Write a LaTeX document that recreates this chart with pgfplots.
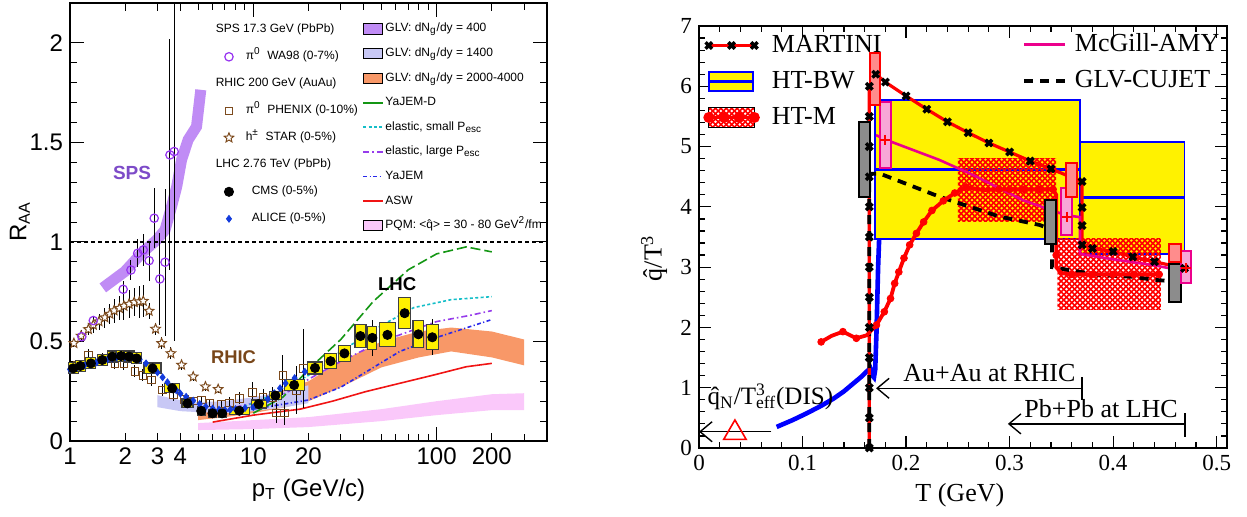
\documentclass[border=0pt]{standalone}
\usepackage{fontspec}
\setmainfont{Liberation Sans}
\newfontfamily\tnr{Liberation Serif}
\usepackage{pgfplots}
\usepackage{pgfplotstable}
\pgfplotsset{compat=1.18}
\usetikzlibrary{patterns,arrows.meta}

\definecolor{spsband}{RGB}{192,140,245}
\definecolor{glvb}{RGB}{200,200,245}
\definecolor{glvc}{RGB}{248,152,104}
\definecolor{pqm}{RGB}{250,200,250}
\definecolor{yjd}{RGB}{20,150,20}
\definecolor{elsm}{RGB}{20,190,200}
\definecolor{ella}{RGB}{150,60,235}
\definecolor{yj}{RGB}{40,40,235}
\definecolor{asw}{RGB}{240,20,20}
\definecolor{wa}{RGB}{150,50,240}
\definecolor{brn}{RGB}{125,75,30}
\definecolor{alice}{RGB}{20,60,220}
\definecolor{cmsy}{RGB}{255,240,0}
\definecolor{spstxt}{RGB}{125,75,200}
\definecolor{rhictxt}{RGB}{120,70,25}

\pgfdeclareplotmark{ybox}{\pgfpathrectangle{\pgfpoint{-\bw pt}{-\bh pt}}{\pgfpoint{2*\bw pt}{2*\bh pt}}\pgfusepathqfillstroke}

\pgfdeclareplotmark{ostar}{%
  \pgfpathmoveto{\pgfqpointpolar{90}{\pgfplotmarksize}}%
  \pgfpathlineto{\pgfqpointpolar{126}{0.45\pgfplotmarksize}}%
  \pgfpathlineto{\pgfqpointpolar{162}{\pgfplotmarksize}}%
  \pgfpathlineto{\pgfqpointpolar{198}{0.45\pgfplotmarksize}}%
  \pgfpathlineto{\pgfqpointpolar{234}{\pgfplotmarksize}}%
  \pgfpathlineto{\pgfqpointpolar{270}{0.45\pgfplotmarksize}}%
  \pgfpathlineto{\pgfqpointpolar{306}{\pgfplotmarksize}}%
  \pgfpathlineto{\pgfqpointpolar{342}{0.45\pgfplotmarksize}}%
  \pgfpathlineto{\pgfqpointpolar{18}{\pgfplotmarksize}}%
  \pgfpathlineto{\pgfqpointpolar{54}{0.45\pgfplotmarksize}}%
  \pgfpathclose\pgfusepathqfillstroke}

\pgfdeclarepatternformonly{xh}{\pgfqpoint{-1pt}{-1pt}}{\pgfqpoint{3.7pt}{3.7pt}}{\pgfqpoint{2.7pt}{2.7pt}}{%
  \pgfsetlinewidth{0.8pt}%
  \pgfpathmoveto{\pgfqpoint{-0.1pt}{-0.1pt}}\pgfpathlineto{\pgfqpoint{2.8pt}{2.8pt}}%
  \pgfpathmoveto{\pgfqpoint{-0.1pt}{2.8pt}}\pgfpathlineto{\pgfqpoint{2.8pt}{-0.1pt}}%
  \pgfusepath{stroke}}

\pgfplotsset{
  mklegend/.style={legend image code/.code={\path[draw=none,fill=none] (0cm,-0.05cm) rectangle (0.49cm,0.05cm); \draw[##1] plot coordinates {(0.23cm,0cm)};}},
  hdrlegend/.style={legend image code/.code={\path[draw=none,fill=none] (0cm,-0.05cm) rectangle (0.49cm,0.05cm);}},
  arealegend/.style={legend image code/.code={\fill[##1] (0cm,-0.09cm) rectangle (0.34cm,0.09cm);}},
  linelegend/.style={legend image code/.code={\draw[##1] (0cm,0cm) -- (0.34cm,0cm);}},
  martinileg/.style={legend image code/.code={\draw[red, line width=1.6pt] (0cm,0cm) -- (0.8cm,0cm); \draw[only marks, mark=x, mark size=2.3pt, mark options={black, line width=1.7pt}] plot coordinates {(0cm,0cm)(0.4cm,0cm)(0.8cm,0cm)};}},
  htbwleg/.style={legend image code/.code={\filldraw[fill=yellow, draw=blue, line width=0.9pt] (0cm,-0.17cm) rectangle (0.78cm,0.17cm); \draw[blue, line width=1.6pt] (0cm,0cm) -- (0.78cm,0cm);}},
  htmleg/.style={legend image code/.code={\fill[pattern=xh, pattern color=red] (0cm,-0.18cm) rectangle (0.8cm,0.18cm); \draw[red, line width=1.8pt, mark=*, mark size=1.8pt] plot coordinates {(0cm,0cm)(0.27cm,0cm)(0.53cm,0cm)(0.8cm,0cm)};}},
  mcgleg/.style={legend image code/.code={\draw[magenta, line width=1.6pt] (0cm,0cm) -- (0.72cm,0cm);}},
  cujleg/.style={legend image code/.code={\draw[black, line width=1.9pt, dash pattern=on 4.5pt off 3.5pt] (0cm,0cm) -- (0.72cm,0cm);}},
}

\pgfplotstableread{
x y ey bw bh
1.04 0.365 0.010 2.5 2.75
1.14 0.377 0.010 2.5 2.75
1.30 0.390 0.010 2.5 2.75
1.50 0.407 0.010 2.5 2.75
1.70 0.424 0.010 2.5 2.75
1.90 0.427 0.010 2.5 2.75
2.10 0.424 0.010 2.5 2.75
2.31 0.415 0.010 2.5 2.75
2.82 0.365 0.015 4.25 2.7
3.61 0.265 0.015 3.75 2.3
4.37 0.189 0.010 2.75 2.2
5.20 0.151 0.008 2.0 2.0
5.99 0.139 0.008 2.0 2.0
6.76 0.139 0.008 2.0 2.0
8.38 0.152 0.008 5.0 1.8
10.7 0.186 0.015 3.75 2.0
13.2 0.228 0.020 3.0 2.0
16.7 0.281 0.030 5.0 2.7
21.7 0.367 0.020 3.6 3.0
26.4 0.401 0.030 2.9 3.8
31.4 0.440 0.040 3.0 4.0
38.4 0.527 0.045 2.75 5.6
44.6 0.518 0.090 2.25 5.7
53.9 0.533 0.020 3.9 6.0
66.9 0.642 0.060 3.0 7.75
79.5 0.536 0.065 2.7 6.7
94.7 0.521 0.090 2.9 6.25
}\cmsdata

\pgfplotstableread{
x y ey
1.16 0.524 0.02
1.34 0.605 0.02
1.95 0.762 0.04
2.15 0.859 0.05
2.34 0.943 0.07
2.51 0.960 0.08
2.70 0.906 0.10
2.88 1.119 0.15
3.09 0.814 0.23
3.30 0.898 0.37
3.51 1.437 0.58
3.70 1.454 0.95
}\wadata

\pgfplotstableread{
x y ey
1.05 0.491 0.02
1.15 0.528 0.03
1.26 0.561 0.03
1.34 0.583 0.04
1.44 0.600 0.04
1.55 0.620 0.05
1.65 0.638 0.05
1.74 0.655 0.06
1.86 0.667 0.06
1.97 0.678 0.07
2.10 0.688 0.07
2.24 0.697 0.07
2.39 0.700 0.08
2.51 0.703 0.08
2.70 0.653 0.04
2.93 0.563 0.03
3.16 0.491 0.03
3.55 0.440 0.03
4.06 0.382 0.025
4.70 0.323 0.02
5.48 0.273 0.02
6.43 0.260 0.02
}\stardata

\pgfplotstableread{
x y ey
1.10 0.380 0.02
1.26 0.430 0.03
1.50 0.410 0.03
1.76 0.390 0.03
1.97 0.387 0.03
2.26 0.350 0.03
2.50 0.330 0.03
2.79 0.306 0.03
3.20 0.256 0.03
3.66 0.231 0.03
4.20 0.210 0.02
4.70 0.200 0.02
5.20 0.205 0.02
5.80 0.190 0.02
6.70 0.186 0.02
7.40 0.190 0.03
8.40 0.215 0.03
9.90 0.245 0.05
11.3 0.220 0.04
12.8 0.220 0.05
13.4 0.140 0.05
14.5 0.330 0.10
14.8 0.140 0.06
17.2 0.255 0.12
18.8 0.365 0.20
}\phenixdata

\pgfplotstableread{
x y
1.00 0.360
1.10 0.370
1.20 0.380
1.30 0.390
1.40 0.395
1.50 0.400
1.60 0.410
1.70 0.415
1.80 0.420
1.90 0.420
2.00 0.420
2.20 0.420
2.40 0.410
2.60 0.390
2.80 0.365
3.00 0.345
3.20 0.320
3.40 0.295
3.60 0.272
3.80 0.255
4.00 0.238
4.30 0.222
4.70 0.203
5.10 0.186
5.50 0.172
6.00 0.163
6.50 0.157
7.00 0.155
7.50 0.158
8.00 0.160
9.00 0.165
10.0 0.170
11.0 0.190
12.0 0.210
13.0 0.240
14.0 0.265
15.0 0.290
16.8 0.316
19.1 0.348
}\alicedata

\begin{document}
\begin{tikzpicture}
\useasboundingbox (0,0) rectangle (623.5pt,258pt);

%================ LEFT PANEL =================
\begin{axis}[
  at={(35pt,37.5pt)}, anchor=south west, scale only axis,
  width=238.5pt, height=219pt,
  xmode=log, xmin=1, xmax=400, ymin=0, ymax=2.2,
  xtick={1,10,100}, xticklabels={1,10,100},
  extra x ticks={2,3,4,20,200}, extra x tick labels={2,3,4,20,200},
  extra x tick style={major tick length=4pt},
  minor xtick={5,6,7,8,9,30,40,50,60,70,80,90,300,400},
  ytick={0,0.5,1,1.5,2}, minor y tick num=4,
  major tick length=7pt, minor tick length=3.5pt,
  axis line style={line width=0.7pt},
  every tick/.style={black, line width=0.5pt},
  ticklabel style={font=\fontsize{12}{12}\selectfont},
  /pgf/number format/assume math mode=true,
  xlabel={p\textsubscript{T} (GeV/c)}, ylabel={R\textsubscript{AA}},
  label style={font=\fontsize{12}{14}\selectfont},
  xlabel style={at={(rel axis cs:0.5,-0.112)}, anchor=center},
  ylabel style={at={(rel axis cs:-0.105,0.5)}, anchor=center},
  legend cell align=left,
  legend style={at={(rel axis cs:0.305,0.958)}, anchor=north west, draw=none, fill=none,
    font=\fontsize{6}{7}\selectfont, row sep=5.5pt, inner sep=0pt,
    nodes={inner sep=1pt, text height=4.5pt, text depth=1.5pt}},
]
% bands
\addplot[fill=pqm, draw=none, forget plot] coordinates {(5,0.09)(10,0.105)(20,0.12)(50,0.16)(100,0.20)(200,0.235)(300,0.24)(300,0.155)(200,0.155)(100,0.13)(50,0.10)(20,0.07)(10,0.06)(5,0.055)} -- cycle;
\addplot[fill=glvc, draw=none, forget plot] coordinates {(5,0.155)(7,0.18)(10,0.21)(15,0.26)(20,0.30)(30,0.40)(50,0.50)(80,0.55)(120,0.57)(200,0.55)(300,0.51)(300,0.38)(200,0.42)(120,0.45)(80,0.42)(50,0.37)(30,0.27)(20,0.20)(15,0.17)(10,0.14)(7,0.12)(5,0.105)} -- cycle;
\addplot[fill=glvb, draw=none, forget plot] coordinates {(3,0.23)(4,0.205)(5,0.195)(7,0.2)(10,0.22)(15,0.25)(20,0.28)(20,0.19)(15,0.17)(10,0.15)(7,0.14)(5,0.145)(4,0.15)(3,0.17)} -- cycle;
\addplot[draw=spsband, line width=5.5pt, forget plot] coordinates {(1.51,0.769)(1.99,0.851)(2.46,0.943)(2.97,1.01)(3.30,1.06)(3.58,1.177)(3.82,1.277)(4.06,1.412)(4.41,1.513)(4.90,1.579)(5.17,1.764)};
% model curves
\addplot[asw, line width=0.8pt, forget plot] coordinates {(6,0.095)(10,0.13)(18,0.16)(27,0.2)(41,0.248)(63,0.29)(95,0.33)(145,0.373)(200,0.39)};
\addplot[yj, line width=0.8pt, dash pattern=on 2pt off 1.2pt on 0.6pt off 1.2pt, forget plot] coordinates {(7,0.15)(10,0.16)(20,0.206)(30,0.27)(63,0.45)(100,0.52)(200,0.61)};
\addplot[ella, line width=0.8pt, dash pattern=on 3pt off 1.5pt on 0.8pt off 1.5pt, forget plot] coordinates {(8,0.17)(10,0.19)(15,0.24)(20,0.31)(30,0.40)(50,0.50)(100,0.60)(150,0.63)(200,0.655)};
\addplot[elsm, line width=0.8pt, dash pattern=on 1.5pt off 1.2pt, forget plot] coordinates {(6,0.14)(8,0.16)(10,0.19)(14,0.25)(20,0.33)(30,0.45)(50,0.58)(75,0.67)(120,0.71)(200,0.725)};
\addplot[yjd, line width=0.8pt, dash pattern=on 5pt off 2pt, forget plot] coordinates {(10,0.14)(14.5,0.22)(20,0.36)(30,0.51)(45,0.70)(70,0.86)(100,0.94)(145,0.975)(200,0.95)};
\addplot[black, line width=0.6pt, dash pattern=on 2pt off 1.5pt, forget plot] coordinates {(1,1)(400,1)};
% data
\addplot[only marks, mark=ostar, mark size=2.5pt, brn, mark options={line width=0.5pt, fill=white}, forget plot,
  error bars/.cd, y dir=both, y explicit, error mark=none, error bar style={black, line width=0.5pt}]
  table[x=x,y=y,y error=ey] {\stardata};
\addplot[only marks, mark=o, mark size=2.1pt, wa, mark options={line width=0.6pt, fill=white}, forget plot,
  error bars/.cd, y dir=both, y explicit, error mark=none, error bar style={black, line width=0.5pt}]
  table[x=x,y=y,y error=ey] {\wadata};
\addplot[only marks, mark=square, mark size=1.9pt, brn, mark options={line width=0.5pt}, forget plot,
  error bars/.cd, y dir=both, y explicit, error mark=none, error bar style={black, line width=0.5pt}]
  table[x=x,y=y,y error=ey] {\phenixdata};
\addplot[only marks, mark=ybox, mark options={fill=cmsy, draw=black!75, line width=0.6pt}, forget plot,
  visualization depends on={\thisrow{bw}\as\bw},
  visualization depends on={\thisrow{bh}\as\bh}]
  table[x=x,y=y] {\cmsdata};
\addplot[only marks, mark=diamond*, mark size=1.7pt, alice, forget plot] table[x=x,y=y] {\alicedata};
\addplot[only marks, mark=*, mark size=2.3pt, black, forget plot,
  error bars/.cd, y dir=both, y explicit, error mark=none, error bar style={black, line width=0.7pt}]
  table[x=x,y=y,y error=ey] {\cmsdata};
% labels
\node[font=\bfseries\fontsize{9.5}{11}\selectfont, text=spstxt] at (axis cs:2.18,1.345) {SPS};
\node[font=\bfseries\fontsize{9.2}{11}\selectfont, text=rhictxt] at (axis cs:7.8,0.42) {RHIC};
\node[font=\bfseries\fontsize{9.3}{11}\selectfont, text=black] at (axis cs:60.9,0.787) {LHC};
% legend column 1
\addlegendimage{hdrlegend}
\addlegendentry{\hspace*{-15pt}SPS 17.3 GeV (PbPb)}
\addlegendimage{mklegend, only marks, mark=o, mark size=2.1pt, wa, line width=0.6pt}
\addlegendentry{π\textsuperscript{0}\ \ WA98 (0-7\%)}
\addlegendimage{hdrlegend}
\addlegendentry{\hspace*{-15pt}RHIC 200 GeV (AuAu)}
\addlegendimage{mklegend, only marks, mark=square, mark size=1.9pt, brn, line width=0.5pt}
\addlegendentry{π\textsuperscript{0}\ \ PHENIX (0-10\%)}
\addlegendimage{mklegend, only marks, mark=ostar, mark size=2.5pt, brn, line width=0.5pt, fill=white}
\addlegendentry{h\textsuperscript{±}\ \ STAR (0-5\%)}
\addlegendimage{hdrlegend}
\addlegendentry{\hspace*{-15pt}LHC 2.76 TeV (PbPb)}
\addlegendimage{mklegend, only marks, mark=*, mark size=2.3pt, black}
\addlegendentry{\hspace*{3pt}CMS (0-5\%)}
\addlegendimage{mklegend, only marks, mark=diamond*, mark size=1.7pt, alice}
\addlegendentry{\hspace*{3pt}ALICE (0-5\%)}
\end{axis}

% legend column 2 (overlay)
\begin{axis}[
  at={(35pt,37.5pt)}, anchor=south west, scale only axis,
  width=238.5pt, height=219pt, hide axis, xmin=0, xmax=1, ymin=0, ymax=1,
  legend cell align=left,
  legend style={at={(rel axis cs:0.612,0.96)}, anchor=north west, draw=none, fill=none,
    font=\fontsize{6}{7}\selectfont, row sep=4.3pt, inner sep=0pt,
    nodes={inner sep=1pt, text height=4.5pt, text depth=1.5pt}},
]
\addlegendimage{arealegend, fill=spsband}
\addlegendentry{GLV: dN\textsubscript{g}/dy = 400}
\addlegendimage{arealegend, fill=glvb}
\addlegendentry{GLV: dN\textsubscript{g}/dy = 1400}
\addlegendimage{arealegend, fill=glvc}
\addlegendentry{GLV: dN\textsubscript{g}/dy = 2000-4000}
\addlegendimage{linelegend, yjd, line width=0.8pt}
\addlegendentry{YaJEM-D}
\addlegendimage{linelegend, elsm, line width=0.9pt, dash pattern=on 1.5pt off 1.2pt}
\addlegendentry{elastic, small P\textsubscript{esc}}
\addlegendimage{linelegend, ella, line width=0.8pt, dash pattern=on 3pt off 1.5pt on 0.8pt off 1.5pt}
\addlegendentry{elastic, large P\textsubscript{esc}}
\addlegendimage{linelegend, yj, line width=0.8pt, dash pattern=on 2pt off 1.2pt on 0.6pt off 1.2pt}
\addlegendentry{YaJEM}
\addlegendimage{linelegend, asw, line width=0.8pt}
\addlegendentry{ASW}
\addlegendimage{arealegend, fill=pqm}
\addlegendentry{PQM: <\^{q}> = 30 - 80 GeV\textsuperscript{2}/fm}
\end{axis}

%================ RIGHT PANEL =================
\begin{axis}[
  at={(349.5pt,34pt)}, anchor=south west, scale only axis,
  width=264pt, height=211pt,
  xmin=0, xmax=0.51, ymin=0, ymax=7,
  xtick={0,0.1,0.2,0.3,0.4,0.5}, ytick={0,1,2,3,4,5,6,7},
  minor x tick num=4, minor y tick num=4,
  major tick length=6pt, minor tick length=3pt,
  axis line style={line width=0.8pt},
  every tick/.style={black, line width=0.6pt},
  ticklabel style={font=\tnr\fontsize{11.5}{12}\selectfont},
  /pgf/number format/assume math mode=true,
  xlabel={T (GeV)}, ylabel={\^{q}/T\textsuperscript{3}},
  label style={font=\tnr\fontsize{13}{15}\selectfont},
  xlabel style={at={(rel axis cs:0.494,-0.111)}, anchor=center},
  ylabel style={at={(rel axis cs:-0.085,0.45)}, anchor=center},
  legend cell align=left,
  legend style={at={(rel axis cs:0.011,0.988)}, anchor=north west, draw=none, fill=none,
    font=\tnr\fontsize{13}{15}\selectfont, row sep=4pt, inner sep=0pt,
    nodes={inner sep=1pt, text height=9.5pt, text depth=2.5pt}},
]
% HT-BW yellow boxes
\addplot[fill=yellow, draw=blue, line width=0.9pt, forget plot] coordinates {(0.17,3.47)(0.368,3.47)(0.368,5.77)(0.17,5.77)} -- cycle;
\addplot[fill=yellow, draw=blue, line width=0.9pt, forget plot] coordinates {(0.368,3.22)(0.469,3.22)(0.469,5.08)(0.368,5.08)} -- cycle;
\addplot[blue, line width=1.6pt, forget plot] coordinates {(0.17,4.62)(0.368,4.62)};
\addplot[blue, line width=1.6pt, forget plot] coordinates {(0.368,4.16)(0.469,4.16)};
% HT-M hatched bands
\addplot[draw=none, pattern=xh, pattern color=red, forget plot] coordinates {(0.250,3.75)(0.345,3.75)(0.345,4.80)(0.250,4.80)} -- cycle;
\addplot[draw=none, pattern=xh, pattern color=red, forget plot] coordinates {(0.3465,2.29)(0.4462,2.29)(0.4462,3.48)(0.3465,3.48)} -- cycle;
% blue curve
\addplot[blue, line width=2.3pt, forget plot] coordinates {(0.075,0.35)(0.09,0.46)(0.104,0.575)(0.118,0.70)(0.13,0.82)(0.14,0.94)(0.149,1.07)(0.156,1.17)(0.162,1.27)(0.1655,1.32)(0.1675,1.20)(0.169,1.17)(0.1702,1.30)(0.1714,1.90)(0.173,3.0)(0.174,3.47)};
% MARTINI
\addplot[red, line width=1.6pt, forget plot] coordinates {(0.1645,0)(0.1645,6.0)(0.1707,6.2)(0.180,6.07)(0.200,5.84)(0.220,5.62)(0.240,5.41)(0.260,5.23)(0.280,5.06)(0.300,4.91)(0.320,4.76)(0.340,4.63)(0.370,4.42)(0.370,3.37)(0.380,3.31)(0.400,3.26)(0.419,3.17)(0.440,3.09)(0.469,2.98)};
% GLV-CUJET
\addplot[black, line width=1.9pt, dash pattern=on 4.5pt off 3.5pt, forget plot] coordinates {(0.1645,0)(0.1645,4.55)(0.175,4.55)(0.232,4.17)(0.29,3.84)(0.329,3.70)(0.341,3.62)(0.341,3.0)(0.3545,2.96)(0.387,2.87)(0.419,2.84)(0.44,2.79)(0.461,2.76)};
% McGill-AMY
\addplot[magenta, line width=1.3pt, forget plot] coordinates {(0.171,5.19)(0.181,5.11)(0.232,4.78)(0.2645,4.53)(0.313,4.11)(0.3545,3.86)(0.368,3.83)(0.368,3.22)(0.40,3.13)(0.44,3.03)(0.464,2.95)};
% HT-M line
\addplot[red, line width=1.9pt, forget plot] coordinates {(0.118,1.76)(0.128,1.86)(0.139,1.93)(0.152,1.82)(0.162,1.87)(0.1714,2.04)(0.179,2.26)(0.185,2.48)(0.189,2.73)(0.193,2.92)(0.198,3.15)(0.2035,3.37)(0.21,3.56)(0.217,3.75)(0.225,3.94)(0.236,4.10)(0.247,4.23)(0.258,4.33)(0.274,4.28)(0.30,4.29)(0.314,4.29)(0.329,4.29)(0.342,4.29)(0.345,4.2)(0.345,3.0)(0.350,2.9)(0.36,2.88)(0.4445,2.88)};
\addplot[only marks, mark=*, mark size=1.7pt, red, forget plot] coordinates {(0.118,1.76)(0.139,1.93)(0.152,1.82)(0.1714,2.04)(0.179,2.26)(0.185,2.48)(0.189,2.73)(0.193,2.92)(0.198,3.15)(0.2035,3.37)(0.21,3.56)(0.217,3.75)(0.225,3.94)(0.236,4.10)(0.247,4.23)(0.258,4.33)(0.29,4.29)(0.30,4.29)(0.314,4.29)(0.329,4.29)(0.342,4.29)(0.345,3.2)(0.36,2.88)(0.38,2.88)(0.40,2.88)(0.42,2.88)(0.4445,2.88)};
% error boxes
\addplot[fill=black!45, draw=black, line width=1pt, forget plot] coordinates {(0.155,4.17)(0.165,4.17)(0.165,5.41)(0.155,5.41)} -- cycle;
\addplot[fill=black!45, draw=black, line width=1pt, forget plot] coordinates {(0.334,3.38)(0.345,3.38)(0.345,4.12)(0.334,4.12)} -- cycle;
\addplot[fill=black!45, draw=black, line width=1pt, forget plot] coordinates {(0.454,2.43)(0.4655,2.43)(0.4655,3.06)(0.454,3.06)} -- cycle;
\addplot[fill=magenta!35, draw=magenta, line width=1pt, forget plot] coordinates {(0.1745,4.64)(0.185,4.64)(0.185,5.74)(0.1745,5.74)} -- cycle;
\addplot[fill=magenta!35, draw=magenta, line width=1pt, forget plot] coordinates {(0.3497,3.53)(0.3603,3.53)(0.3603,4.32)(0.3497,4.32)} -- cycle;
\addplot[fill=magenta!35, draw=magenta, line width=1pt, forget plot] coordinates {(0.4655,2.73)(0.475,2.73)(0.475,3.26)(0.4655,3.26)} -- cycle;
\addplot[fill=red!45, draw=red, line width=1pt, forget plot] coordinates {(0.165,5.69)(0.1752,5.69)(0.1752,6.56)(0.165,6.56)} -- cycle;
\addplot[fill=red!45, draw=red, line width=1pt, forget plot] coordinates {(0.3545,4.17)(0.365,4.17)(0.365,4.73)(0.3545,4.73)} -- cycle;
\addplot[fill=red!45, draw=red, line width=1pt, forget plot] coordinates {(0.454,3.09)(0.4655,3.09)(0.4655,3.39)(0.454,3.39)} -- cycle;
% MARTINI markers
\addplot[only marks, mark=x, mark size=2.3pt, black, mark options={line width=1.7pt}, forget plot] coordinates {(0.1645,0)(0.1645,0.5)(0.1645,1.0)(0.1645,1.5)(0.1645,2.0)(0.1645,2.5)(0.1645,3.0)(0.1645,3.5)(0.1645,4.0)(0.1645,4.5)(0.1645,5.0)(0.1645,5.5)(0.1645,6.0)(0.1707,6.2)(0.180,6.07)(0.200,5.84)(0.220,5.62)(0.240,5.41)(0.260,5.23)(0.280,5.06)(0.300,4.91)(0.320,4.76)(0.340,4.63)(0.370,4.42)(0.370,3.99)(0.370,3.69)(0.370,3.37)(0.380,3.31)(0.400,3.26)(0.419,3.17)(0.440,3.09)(0.469,2.98)};
\addplot[only marks, mark=+, mark size=2.5pt, red, mark options={line width=1pt}, forget plot] coordinates {(0.18,5.11)(0.355,3.84)(0.4705,2.98)};
% DIS point
\addplot[only marks, mark=triangle, mark size=6.5pt, red, mark options={line width=0.8pt}, forget plot] coordinates {(0.0347,0.25)};
% annotations
\draw[black, line width=0.7pt, -{Straight Barb[length=6pt,width=10pt]}] (axis cs:0.07,0.27) -- (axis cs:0.0,0.27);
\draw[black, line width=0.7pt, -{Straight Barb[length=6pt,width=10pt]}] (axis cs:0.37,0.99) -- (axis cs:0.171,0.99);
\draw[black, line width=0.7pt] (axis cs:0.37,0.80) -- (axis cs:0.37,1.18);
\draw[black, line width=0.7pt, -{Straight Barb[length=6pt,width=10pt]}] (axis cs:0.4696,0.40) -- (axis cs:0.2983,0.40);
\draw[black, line width=0.7pt] (axis cs:0.4696,0.19) -- (axis cs:0.4696,0.585);
\node[anchor=base west, font=\tnr\fontsize{12.5}{14}\selectfont, inner sep=0pt] at (axis cs:0.008,0.72) {\^{q}\textsubscript{N}/T\rlap{\textsuperscript{3}}\textsubscript{eff}(DIS)};
\node[anchor=base west, font=\tnr\fontsize{13}{15}\selectfont, inner sep=0pt] at (axis cs:0.197,1.1) {Au+Au at RHIC};
\node[anchor=base west, font=\tnr\fontsize{13}{15}\selectfont, inner sep=0pt] at (axis cs:0.314,0.5) {Pb+Pb at LHC};
% legend 1
\addlegendimage{martinileg}
\addlegendentry{\hspace*{6pt}MARTINI}
\addlegendimage{htbwleg}
\addlegendentry{\hspace*{6pt}HT-BW}
\addlegendimage{htmleg}
\addlegendentry{\hspace*{6pt}HT-M}
\end{axis}

% right legend 2 (overlay)
\begin{axis}[
  at={(349.5pt,34pt)}, anchor=south west, scale only axis,
  width=264pt, height=211pt, hide axis, xmin=0, xmax=1, ymin=0, ymax=1,
  legend cell align=left,
  legend style={at={(rel axis cs:0.99,0.99)}, anchor=north east, draw=none, fill=none,
    font=\tnr\fontsize{13}{15}\selectfont, row sep=4pt, inner sep=0pt,
    nodes={inner sep=1pt, text height=9.5pt, text depth=2.5pt}},
]
\addlegendimage{mcgleg}
\addlegendentry{\hspace*{3pt}McGill-AMY}
\addlegendimage{cujleg}
\addlegendentry{\hspace*{3pt}GLV-CUJET}
\end{axis}
\end{tikzpicture}
\end{document}
